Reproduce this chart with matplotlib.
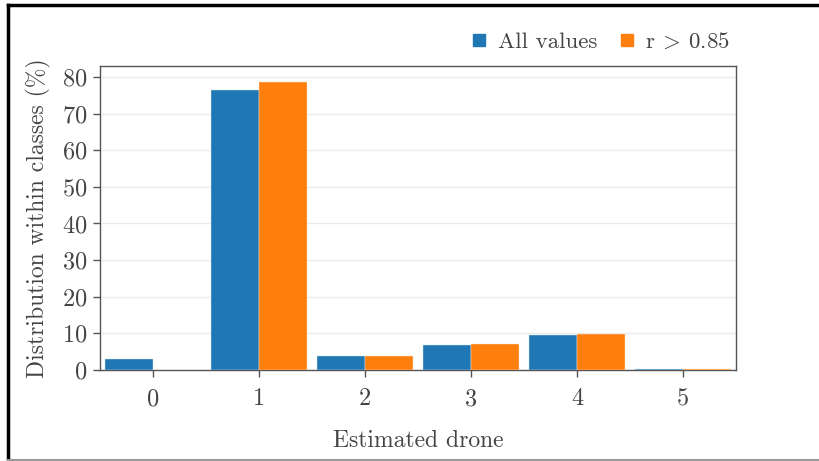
import numpy as np
import matplotlib
matplotlib.use("Agg")
from matplotlib import pyplot as plt
from matplotlib.lines import Line2D

# values
categories = [0, 1, 2, 3, 4, 5]
all_values = [2.9, 76.5, 3.8, 6.8, 9.6, 0.4]
high_r = [0.0, 78.7, 3.9, 7.1, 9.8, 0.3]
series_names = ["All values", "r $\\!>\\!$ 0.85"]

plt.rcParams['font.family'] = 'serif'
plt.rcParams['font.serif'] = ['cmr10', 'DejaVu Serif']
plt.rcParams['mathtext.fontset'] = 'cm'
plt.rcParams['axes.formatter.use_mathtext'] = True

txt = '#444444'
blue = '#1f77b4'
orange = '#ff7f0e'

fig = plt.figure(figsize=(8.19, 4.61), dpi=100)
ax = fig.add_axes([100/819, 1-370/461, 636/819, 304/461])

x = np.arange(len(categories))
w = 0.45
ax.bar(x - w/2, all_values, w, color=blue, edgecolor='#dde8f0', linewidth=0.3, zorder=3)
ax.bar(x + w/2, high_r, w, color=orange, edgecolor='#fde6d0', linewidth=0.3, zorder=3)

ax.set_xlim(-0.5, 5.5)
ax.set_ylim(0, 83)
ax.set_xticks(x)
ax.set_xticklabels([str(c) for c in categories])
ax.set_yticks(np.arange(0, 81, 10))
ax.yaxis.grid(True, color='#ebebeb', linewidth=1, zorder=0)
for s in ax.spines.values():
    s.set_color('#555555')
    s.set_linewidth(1)
ax.tick_params(colors='#555555', labelcolor=txt, labelsize=17.5, length=5, width=1)
ax.tick_params(axis='x', pad=8)
ax.tick_params(axis='y', pad=4)

ax.set_xlabel("Estimated drone", fontsize=17, color=txt, labelpad=14)
ax.set_ylabel("Distribution within classes (%)", fontsize=17, color=txt, labelpad=8)

handles = [Line2D([], [], marker='s', linestyle='none', color=blue, markersize=8.5),
           Line2D([], [], marker='s', linestyle='none', color=orange, markersize=8.5)]
fig.legend(handles, series_names, loc='center right', bbox_to_anchor=(730/819, 1-42/461),
           ncol=2, frameon=False, fontsize=16.5, handletextpad=0.3, columnspacing=0.8,
           handlelength=1.0, labelcolor=txt, borderaxespad=0, borderpad=0)

# outer frame of the screenshot
fig.add_artist(Line2D([8/819, 1], [1-5/461, 1-5/461], color='black', linewidth=2.5, transform=fig.transFigure))
fig.add_artist(Line2D([8/819, 8/819], [0, 1-5/461], color='black', linewidth=2.5, transform=fig.transFigure))
fig.add_artist(Line2D([8/819, 1], [1/461, 1/461], color='#999999', linewidth=1.5, transform=fig.transFigure))

fig.savefig("out.png", dpi=100)
